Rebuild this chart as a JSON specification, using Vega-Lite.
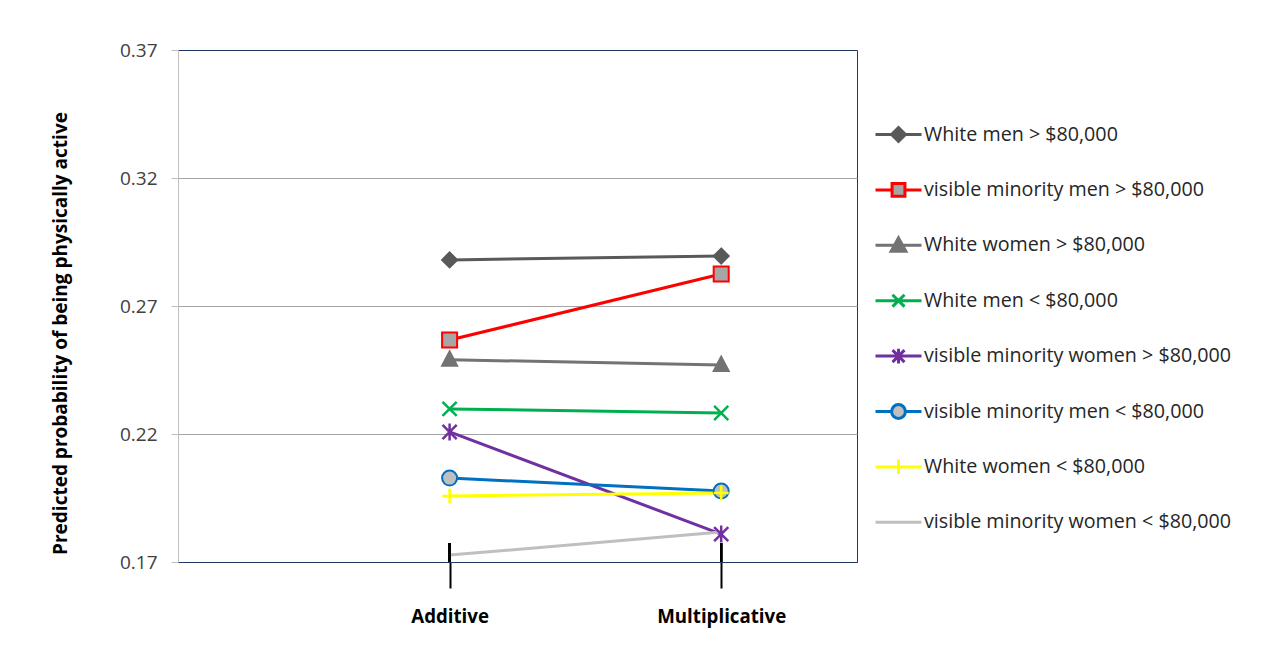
{
  "$schema": "https://vega.github.io/schema/vega-lite/v6.json",
  "width": 679,
  "height": 512,
  "autosize": {"type": "none"},
  "padding": {"left": 178, "top": 50, "right": 411, "bottom": 84},
  "background": "white",
  "config": {"view": {"stroke": "#1F3864", "strokeWidth": 1}, "font": "Open Sans"},
  "data": {"values": [
    {"series": "White men > $80,000", "method": "Additive", "p": 0.288},
    {"series": "White men > $80,000", "method": "Multiplicative", "p": 0.2895},
    {"series": "visible minority men > $80,000", "method": "Additive", "p": 0.2567},
    {"series": "visible minority men > $80,000", "method": "Multiplicative", "p": 0.2825},
    {"series": "White women > $80,000", "method": "Additive", "p": 0.249},
    {"series": "White women > $80,000", "method": "Multiplicative", "p": 0.247},
    {"series": "White men < $80,000", "method": "Additive", "p": 0.2298},
    {"series": "White men < $80,000", "method": "Multiplicative", "p": 0.2282},
    {"series": "visible minority women > $80,000", "method": "Additive", "p": 0.2208},
    {"series": "visible minority women > $80,000", "method": "Multiplicative", "p": 0.1809},
    {"series": "visible minority men < $80,000", "method": "Additive", "p": 0.2028},
    {"series": "visible minority men < $80,000", "method": "Multiplicative", "p": 0.1977},
    {"series": "White women < $80,000", "method": "Additive", "p": 0.1958},
    {"series": "White women < $80,000", "method": "Multiplicative", "p": 0.197},
    {"series": "visible minority women < $80,000", "method": "Additive", "p": 0.1727},
    {"series": "visible minority women < $80,000", "method": "Multiplicative", "p": 0.1817}
  ]},
  "encoding": {
    "x": {"field": "method", "type": "nominal", "title": null,
      "scale": {"type": "point", "domain": ["_a", "_b", "Additive", "_c", "Multiplicative", "_d"], "padding": 0},
      "axis": {"values": ["Additive", "Multiplicative"], "labelFont": "Open Sans", "labelFontSize": 18.7, "labelFontWeight": "bold", "labelColor": "black", "labelPadding": 19, "labelAngle": 0, "tickSize": 26, "tickColor": "black", "tickWidth": 2, "domainColor": "#1F3864", "grid": false}},
    "y": {"field": "p", "type": "quantitative",
      "scale": {"domain": [0.17, 0.37], "nice": false, "zero": false},
      "axis": {"values": [0.17, 0.22, 0.27, 0.32, 0.37], "format": ".2f",
        "title": "Predicted probability of being physically active",
        "titleFont": "Open Sans", "titleFontSize": 19, "titleFontWeight": "bold", "titleColor": "black",
        "titleX": -118, "titleY": 283, "titleAlign": "center", "titleBaseline": "middle",
        "labelFont": "Open Sans", "labelFontSize": 19, "labelColor": "#404040", "labelPadding": 14,
        "tickSize": 7, "tickColor": "#BFBFBF", "domainColor": "#BFBFBF",
        "grid": true,
        "gridColor": {"condition": {"test": "datum.value >= 0.369 || datum.value <= 0.171", "value": "transparent"}, "value": "#A6A6A6"}}}
  },
  "layer": [
    {
      "mark": {"type": "line", "strokeWidth": 3},
      "encoding": {
        "color": {"field": "series", "type": "nominal",
          "scale": {
            "domain": ["White men > $80,000", "visible minority men > $80,000", "White women > $80,000", "White men < $80,000", "visible minority women > $80,000", "visible minority men < $80,000", "White women < $80,000", "visible minority women < $80,000"],
            "range": ["#595959", "#FF0000", "#737373", "#00B050", "#7030A0", "#0070C0", "#FFFF00", "#BFBFBF"]},
          "legend": {
            "title": null, "orient": "none", "legendX": 696, "legendY": 60, "padding": 0,
            "symbolSize": 2116, "rowPadding": 17.4, "gridAlign": "all", "labelFont": "Open Sans", "labelFontSize": 19.7, "labelColor": "#262626",
            "labelOffset": 1, "labelLimit": 400,
            "encode": {"symbols": {"update": {
              "shape": {"signal": "['M-1,0H1M0,-0.3L0.3,0L0,0.3L-0.3,0Z','M-1,0H-0.28M0.28,0H1M-0.28,-0.28H0.28V0.28H-0.28Z','M-1,0H1M0,-0.32L0.32,0.26H-0.32Z','M-1,0H1M-0.26,-0.26L0.26,0.26M-0.26,0.26L0.26,-0.26','M-1,0H1M-0.26,-0.26L0.26,0.26M-0.26,0.26L0.26,-0.26M0,-0.32V0.32','M-1,0H-0.3M0.3,0H1M0.3,0A0.3,0.3,0,1,1,-0.3,0A0.3,0.3,0,1,1,0.3,0Z','M-1,0H1M0,-0.32V0.32','M-1,0H1'][datum.index]"},
              "fill": {"signal": "['#595959','#A6A6A6','#737373','transparent','transparent','#BFBFBF','transparent','transparent'][datum.index]"},
              "stroke": {"signal": "['#595959','#FF0000','#737373','#00B050','#7030A0','#0070C0','#FFFF00','#BFBFBF'][datum.index]"},
              "strokeWidth": {"value": 3},
              "opacity": {"value": 1}
            }}}
          }}
      }
    },
    {
      "layer": [
        {"transform": [{"filter": {"field": "series", "equal": "White men > $80,000"}}],
         "mark": {"type": "point", "shape": "M0,-1L1,0L0,1L-1,0Z", "filled": true, "fill": "#595959", "stroke": "#595959", "opacity": 1, "strokeWidth": 2, "size": 225}},
        {"transform": [{"filter": {"field": "series", "equal": "visible minority men > $80,000"}}],
         "mark": {"type": "point", "shape": "M-1,-1H1V1H-1Z", "filled": true, "fill": "#A6A6A6", "stroke": "#FF0000", "opacity": 1, "strokeWidth": 2, "size": 225}},
        {"transform": [{"filter": {"field": "series", "equal": "White women > $80,000"}}],
         "mark": {"type": "point", "shape": "M0,-1.1L1,0.8H-1Z", "filled": true, "fill": "#737373", "stroke": "#737373", "opacity": 1, "strokeWidth": 2, "size": 225}},
        {"transform": [{"filter": {"field": "series", "equal": "White men < $80,000"}}],
         "mark": {"type": "point", "shape": "M-1,-1L1,1M-1,1L1,-1", "filled": false, "fill": "transparent", "stroke": "#00B050", "opacity": 1, "strokeWidth": 2.5, "size": 200}},
        {"transform": [{"filter": {"field": "series", "equal": "visible minority women > $80,000"}}],
         "mark": {"type": "point", "shape": "M-1,-1L1,1M-1,1L1,-1M0,-1.2V1.2", "filled": false, "fill": "transparent", "stroke": "#7030A0", "opacity": 1, "strokeWidth": 2.5, "size": 200}},
        {"transform": [{"filter": {"field": "series", "equal": "visible minority men < $80,000"}}],
         "mark": {"type": "point", "shape": "circle", "filled": true, "fill": "#BFBFBF", "stroke": "#0070C0", "opacity": 1, "strokeWidth": 2, "size": 225}},
        {"transform": [{"filter": {"field": "series", "equal": "White women < $80,000"}}],
         "mark": {"type": "point", "shape": "M0,-1V1M-1,0H1", "filled": false, "fill": "transparent", "stroke": "#FFFF00", "opacity": 1, "strokeWidth": 2.5, "size": 225}}
      ]
    },
    {
      "mark": {"type": "rule", "color": "black", "strokeWidth": 2},
      "encoding": {
        "y": {"datum": 0.17},
        "y2": {"datum": 0.1774}
      }
    }
  ]
}
